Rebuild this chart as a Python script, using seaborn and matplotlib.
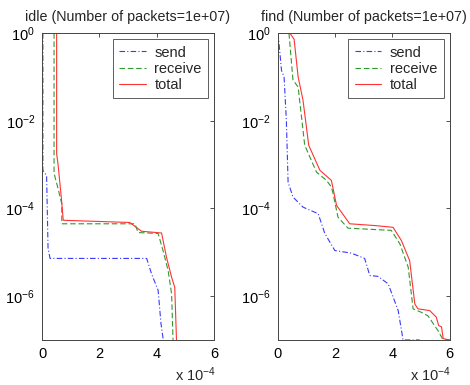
import numpy as np
import pandas as pd
import matplotlib
matplotlib.use("Agg")
import matplotlib.pyplot as plt
import seaborn as sns

# values: x in units of 1e-4, y as log10 of the tail probability
idle_send_x = [0.03, 0.03, 0.16, 0.21, 0.28, 3.65, 3.82, 4.05, 4.15, 4.23]
idle_send_logy = [0.0, -3.13, -3.25, -4.9, -5.14, -5.14, -5.49, -5.87, -6.63, -7.0]
idle_recv_x = [0.42, 0.42, 0.56, 0.69, 0.69, 3.24, 3.35, 4.05, 4.22, 4.4, 4.52, 4.57]
idle_recv_logy = [0.0, -3.2, -3.55, -3.9, -4.35, -4.35, -4.55, -4.57, -4.96, -5.42, -5.95, -7.0]
idle_total_x = [0.51, 0.51, 0.56, 0.68, 0.74, 3.06, 3.47, 4.17, 4.34, 4.52, 4.63, 4.69]
idle_total_logy = [0.0, -2.75, -3.0, -3.8, -4.27, -4.32, -4.52, -4.56, -5.11, -5.57, -5.8, -7.0]

find_send_x = [0.01, 0.13, 0.22, 0.3, 0.36, 0.53, 0.88, 1.41, 1.64, 1.99, 2.57, 3.03, 3.21,
               3.5, 3.85, 4.2, 4.37, 4.95]
find_send_logy = [0.0, -0.85, -1.0, -2.0, -3.4, -3.74, -3.97, -4.12, -4.57, -4.96, -5.02, -5.14,
                  -5.53, -5.55, -5.72, -6.33, -7.0, -7.0]
find_recv_x = [0.39, 0.53, 0.71, 0.94, 1.35, 1.7, 1.87, 1.93, 2.1, 2.45, 3.96, 4.26, 4.55, 4.72,
               5.01, 5.24, 5.59, 5.77, 6.0]
find_recv_logy = [0.0, -1.07, -1.23, -2.56, -3.17, -3.36, -3.51, -3.66, -4.2, -4.45, -4.5, -4.81,
                  -5.34, -6.29, -6.37, -6.45, -6.79, -7.0, -7.0]
find_total_x = [0.42, 0.57, 0.71, 0.88, 1.08, 1.47, 1.87, 1.99, 2.05, 2.51, 3.38, 4.02, 4.31, 4.6,
                4.78, 4.89, 5.3, 5.53, 5.61, 5.71, 5.77, 6.0]
find_total_logy = [0.0, -0.14, -1.0, -1.53, -2.56, -3.13, -3.36, -3.74, -3.93, -4.35, -4.39, -4.43,
                   -4.73, -5.19, -6.18, -6.29, -6.33, -6.48, -6.67, -6.7, -6.97, -7.0]

panels = {
    "idle": [("send", idle_send_x, idle_send_logy),
             ("receive", idle_recv_x, idle_recv_logy),
             ("total", idle_total_x, idle_total_logy)],
    "find": [("send", find_send_x, find_send_logy),
             ("receive", find_recv_x, find_recv_logy),
             ("total", find_total_x, find_total_logy)],
}
n_packets = "1e+07"

styles = {
    "send": dict(color="#3a3aff", linestyle=(0, (5, 2, 1, 2))),
    "receive": dict(color="#2e9a2e", linestyle=(0, (5, 2.5))),
    "total": dict(color="#ff3333", linestyle="-"),
}

sns.set_style("white")
plt.rcParams["font.family"] = ["Liberation Sans", "DejaVu Sans"]
plt.rcParams["font.size"] = 10.5
plt.rcParams["mathtext.fontset"] = "custom"
plt.rcParams["mathtext.rm"] = "Liberation Sans"
plt.rcParams["mathtext.it"] = "Liberation Sans"

fig = plt.figure(figsize=(4.7, 3.85), dpi=100)
positions = [[0.0894, 0.117, 0.366, 0.797], [0.591, 0.117, 0.366, 0.797]]

for pos, (name, series) in zip(positions, panels.items()):
    ax = fig.add_axes(pos)
    for label, xs, logy in series:
        df = pd.DataFrame({"x": np.array(xs) * 1e-4, "y": 10.0 ** np.array(logy)})
        sns.lineplot(data=df, x="x", y="y", ax=ax, sort=False, estimator=None,
                     linewidth=0.8, label=label, **styles[label])
    ax.set_yscale("log")
    ax.set_xlim(0, 6e-4)
    ax.set_ylim(1e-7, 1)
    ax.set_xticks([0, 2e-4, 4e-4, 6e-4])
    ax.set_xticklabels(["0", "2", "4", "6"])
    ax.set_yticks([1, 1e-2, 1e-4, 1e-6])
    ax.yaxis.set_minor_locator(matplotlib.ticker.NullLocator())
    ax.tick_params(direction="in", length=3, width=0.6, top=True, right=True,
                   labelsize=10.5, pad=5, colors="#333333", labelcolor="black")
    for sp in ax.spines.values():
        sp.set_color("#444444")
        sp.set_linewidth(0.7)
    ax.set_xlabel("")
    ax.set_ylabel("")
    ax.set_title(f"{name} (Number of packets={n_packets})", fontsize=10.3, pad=9)
    ax.text(1.01, -0.083, r"x 10$^{-4}$", transform=ax.transAxes, ha="right", va="top",
            fontsize=10.5)
    leg = ax.legend(loc="upper right", fontsize=10.5, frameon=True, fancybox=False,
                    handlelength=1.8, handletextpad=0.6, borderpad=0.45,
                    labelspacing=0.15, borderaxespad=0.4)
    leg.get_frame().set_edgecolor("#333333")
    leg.get_frame().set_linewidth(0.7)

fig.savefig("out.png", dpi=100)
